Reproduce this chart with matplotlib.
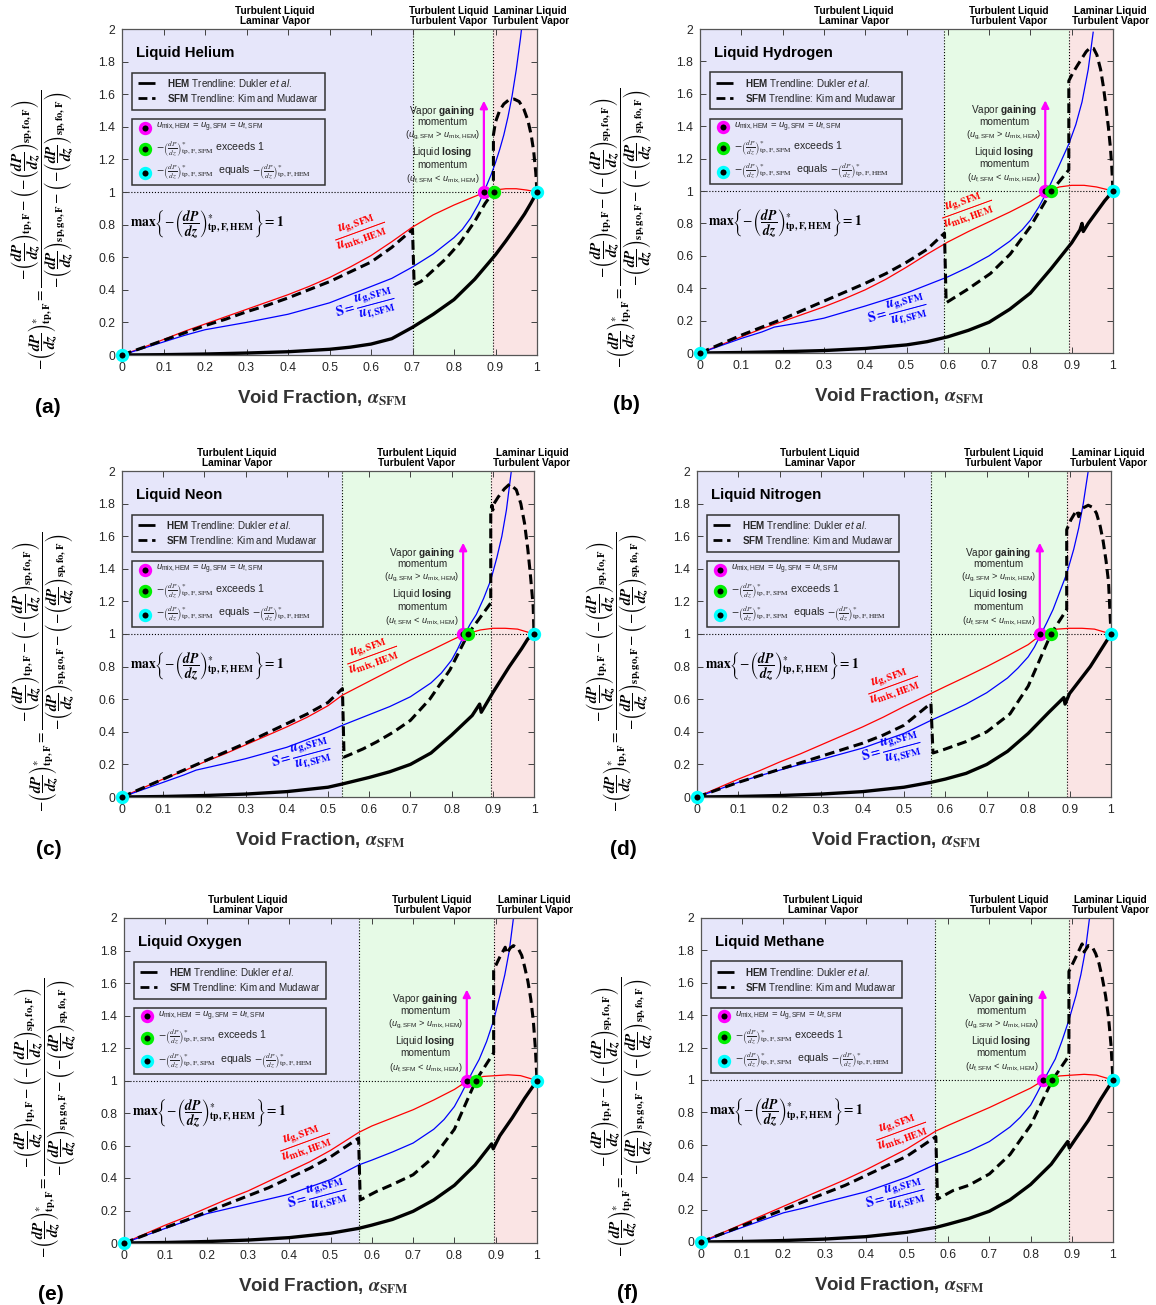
import matplotlib
matplotlib.use('Agg')
import matplotlib.pyplot as plt

plt.rcParams['font.family'] = ['Liberation Sans', 'DejaVu Sans']
plt.rcParams['mathtext.fontset'] = 'custom'
plt.rcParams['mathtext.rm'] = 'Liberation Sans'
plt.rcParams['mathtext.it'] = 'Liberation Sans:italic'
plt.rcParams['mathtext.bf'] = 'Liberation Sans:bold'

# ---------------- data ----------------
NAMES = ['Liquid Helium', 'Liquid Hydrogen', 'Liquid Neon',
         'Liquid Nitrogen', 'Liquid Oxygen', 'Liquid Methane']
LETTERS = ['(a)', '(b)', '(c)', '(d)', '(e)', '(f)']
BOUNDS = [(0.70, 0.895), (0.592, 0.893), (0.535, 0.895),
          (0.565, 0.893), (0.568, 0.895), (0.568, 0.893)]
X_MAGENTA = [0.872, 0.836, 0.828, 0.828, 0.830, 0.829]
X_GREEN = [0.897, 0.851, 0.840, 0.855, 0.852, 0.853]

X_TICKS = [0, 0.1, 0.2, 0.3, 0.4, 0.5, 0.6, 0.7, 0.8, 0.9, 1.0]
X_TICKLABELS = ['0', '0.1', '0.2', '0.3', '0.4', '0.5', '0.6', '0.7', '0.8', '0.9', '1']
Y_TICKS = [0, 0.2, 0.4, 0.6, 0.8, 1.0, 1.2, 1.4, 1.6, 1.8, 2.0]
Y_TICKLABELS = ['0', '0.2', '0.4', '0.6', '0.8', '1', '1.2', '1.4', '1.6', '1.8', '2']

# (a) Helium
HE_RED_X = [0, .05, .1, .15, .2, .25, .3, .35, .4, .45, .5, .55, .6, .65, .7, .75, .8, .85, .872, .9, .925, .95, .975, 1.0]
HE_RED_Y = [0, .045, .095, .145, .19, .235, .28, .325, .37, .42, .475, .54, .61, .695, .785, .86, .92, .973, .995, 1.013, 1.02, 1.02, 1.012, 1.0]
HE_BLUE_X = [0, .05, .1, .15, .2, .3, .4, .5, .6, .65, .7, .75, .8, .82, .84, .86, .872, .89, .9, .91, .92, .93, .94, .95, .96, .965]
HE_BLUE_Y = [0, .04, .08, .12, .155, .20, .25, .32, .42, .47, .54, .62, .72, .77, .84, .93, 1.0, 1.11, 1.18, 1.26, 1.35, 1.46, 1.59, 1.75, 1.94, 2.05]
HE_SFM_X = [0, .05, .1, .15, .2, .25, .3, .35, .4, .45, .5, .55, .6, .65, .70, .704, .72, .75, .78, .815, .85, .875, .895, .895, .90, .91, .92, .932, .945, .957, .968, .978, .986, .992, .997, 1.0]
HE_SFM_Y = [0, .045, .09, .135, .18, .22, .265, .305, .35, .40, .45, .51, .57, .66, .77, .43, .45, .52, .59, .69, .82, .93, 1.0, 1.35, 1.43, 1.50, 1.54, 1.565, 1.57, 1.555, 1.51, 1.44, 1.35, 1.25, 1.12, 1.0]
HE_HEM_X = [0, .1, .2, .3, .4, .5, .55, .6, .65, .7, .75, .8, .85, .9, .925, .95, .97, .985, 1.0]
HE_HEM_Y = [0, .002, .006, .012, .02, .035, .048, .067, .10, .17, .25, .34, .465, .615, .70, .79, .865, .93, 1.0]

# (b) Hydrogen
H2_RED_X = [0, .05, .1, .15, .2, .25, .3, .35, .4, .45, .5, .55, .6, .65, .7, .75, .8, .836, .87, .9, .93, .96, 1.0]
H2_RED_Y = [0, .05, .1, .15, .195, .24, .285, .335, .39, .455, .53, .61, .685, .75, .81, .87, .935, .995, 1.025, 1.035, 1.035, 1.025, 1.0]
H2_BLUE_X = [0, .05, .1, .15, .18, .25, .3, .4, .5, .6, .65, .7, .75, .78, .8, .82, .836, .85, .87, .893, .91, .925, .94, .952]
H2_BLUE_Y = [0, .045, .09, .13, .16, .19, .215, .29, .37, .47, .53, .60, .69, .76, .82, .90, .975, 1.05, 1.16, 1.29, 1.41, 1.55, 1.75, 1.98]
H2_SFM_X = [0, .05, .1, .15, .2, .25, .3, .35, .4, .45, .5, .55, .592, .596, .646, .703, .751, .80, .851, .893, .893, .903, .915, .925, .935, .945, .953, .961, .97, .977, .984, .989, .994, .997, 1.0]
H2_SFM_Y = [0, .055, .11, .16, .21, .265, .32, .375, .43, .49, .56, .64, .74, .31, .39, .49, .61, .78, 1.0, 1.13, 1.68, 1.73, 1.78, 1.82, 1.86, 1.885, 1.88, 1.84, 1.75, 1.64, 1.50, 1.39, 1.26, 1.15, 1.0]
H2_HEM_X = [0, .1, .2, .3, .4, .5, .55, .6, .65, .7, .75, .8, .85, .9, .92, .925, .928, .94, .96, .98, 1.0]
H2_HEM_Y = [0, .003, .008, .015, .028, .05, .07, .10, .14, .19, .27, .37, .52, .68, .76, .80, .75, .80, .87, .94, 1.0]

# (c) Neon
NE_RED_X = [0, .05, .1, .15, .2, .25, .3, .35, .4, .45, .5, .535, .6, .65, .7, .75, .8, .828, .87, .9, .93, .96, 1.0]
NE_RED_Y = [0, .055, .11, .16, .215, .265, .32, .375, .43, .49, .56, .625, .71, .775, .84, .90, .962, .995, 1.025, 1.035, 1.035, 1.03, 1.0]
NE_BLUE_X = [0, .05, .1, .15, .18, .25, .3, .4, .5, .535, .6, .65, .7, .75, .775, .8, .815, .828, .845, .86, .878, .895, .91, .922, .933, .945]
NE_BLUE_Y = [0, .045, .09, .135, .165, .205, .235, .305, .40, .44, .505, .555, .615, .70, .76, .84, .91, .98, 1.06, 1.12, 1.22, 1.33, 1.47, 1.60, 1.76, 2.0]
NE_SFM_X = [0, .05, .1, .15, .2, .25, .3, .35, .4, .45, .5, .535, .539, .555, .585, .618, .66, .70, .747, .796, .84, .895, .895, .898, .90, .903, .913, .928, .941, .957, .968, .977, .985, .991, .998, 1.0]
NE_SFM_Y = [0, .055, .11, .165, .22, .275, .33, .39, .45, .51, .58, .665, .245, .262, .295, .338, .40, .47, .60, .78, 1.0, 1.19, 1.75, 1.79, 1.76, 1.80, 1.84, 1.89, 1.92, 1.885, 1.80, 1.68, 1.52, 1.37, 1.17, 1.0]
NE_HEM_X = [0, .1, .2, .3, .4, .5, .535, .6, .65, .7, .75, .8, .85, .868, .872, .9, .94, .97, .985, 1.0]
NE_HEM_Y = [0, .003, .009, .018, .033, .06, .08, .12, .155, .20, .27, .38, .50, .57, .52, .64, .80, .91, .97, 1.0]

# (d) Nitrogen
N2_RED_X = [0, .05, .1, .15, .2, .25, .3, .35, .4, .45, .5, .565, .6, .65, .7, .75, .8, .828, .87, .9, .93, .96, 1.0]
N2_RED_Y = [0, .055, .11, .16, .215, .265, .32, .375, .43, .49, .555, .635, .678, .738, .80, .866, .935, .99, 1.03, 1.035, 1.035, 1.03, 1.0]
N2_BLUE_X = [0, .05, .1, .15, .2, .25, .3, .4, .5, .565, .6, .65, .7, .75, .775, .8, .815, .828, .845, .86, .875, .893, .91, .922, .933, .945]
N2_BLUE_Y = [0, .045, .09, .13, .165, .20, .23, .30, .39, .47, .51, .57, .64, .73, .79, .86, .92, .985, 1.07, 1.15, 1.25, 1.37, 1.52, 1.65, 1.80, 2.0]
N2_SFM_X = [0, .05, .1, .15, .2, .25, .3, .35, .4, .45, .5, .565, .57, .595, .65, .70, .756, .80, .855, .893, .893, .903, .917, .922, .93, .945, .957, .965, .974, .981, .988, .994, 1.0]
N2_SFM_Y = [0, .045, .09, .13, .17, .21, .25, .29, .33, .38, .44, .575, .27, .29, .34, .40, .51, .68, 1.0, 1.15, 1.64, 1.70, 1.76, 1.72, 1.77, 1.79, 1.775, 1.74, 1.66, 1.57, 1.45, 1.32, 1.0]
N2_HEM_X = [0, .1, .2, .3, .4, .5, .565, .6, .65, .7, .75, .8, .85, .886, .889, .9, .95, .98, 1.0]
N2_HEM_Y = [0, .003, .009, .018, .033, .06, .09, .11, .145, .20, .28, .39, .52, .61, .57, .635, .80, .92, 1.0]

# (e) Oxygen
O2_RED_X = [0, .05, .1, .15, .2, .25, .3, .35, .4, .45, .5, .568, .6, .65, .7, .75, .8, .83, .87, .9, .93, .96, 1.0]
O2_RED_Y = [0, .055, .11, .16, .215, .27, .32, .38, .44, .50, .57, .68, .72, .77, .82, .88, .945, .995, 1.025, 1.03, 1.035, 1.03, 1.0]
O2_BLUE_X = [0, .05, .1, .15, .2, .25, .3, .4, .5, .568, .6, .65, .7, .75, .775, .8, .815, .83, .845, .86, .878, .895, .91, .922, .933, .943]
O2_BLUE_Y = [0, .045, .09, .135, .18, .21, .24, .30, .39, .48, .51, .56, .615, .70, .76, .84, .91, .985, 1.06, 1.13, 1.24, 1.37, 1.52, 1.65, 1.80, 2.0]
O2_SFM_X = [0, .05, .1, .15, .2, .25, .3, .35, .4, .45, .5, .568, .572, .612, .65, .70, .75, .80, .852, .895, .895, .91, .923, .927, .935, .943, .955, .963, .97, .978, .985, .991, .996, 1.0]
O2_SFM_Y = [0, .048, .095, .14, .19, .24, .29, .34, .40, .46, .53, .645, .265, .318, .36, .42, .53, .70, 1.0, 1.17, 1.68, 1.76, 1.82, 1.78, 1.815, 1.83, 1.81, 1.77, 1.70, 1.61, 1.50, 1.37, 1.20, 1.0]
O2_HEM_X = [0, .1, .2, .3, .4, .5, .568, .6, .65, .7, .75, .8, .85, .89, .894, .91, .94, .97, 1.0]
O2_HEM_Y = [0, .003, .009, .018, .033, .06, .09, .11, .145, .195, .265, .355, .48, .61, .58, .66, .77, .89, 1.0]

# (f) Methane
CH4_RED_X = [0, .05, .1, .15, .2, .25, .3, .35, .4, .45, .5, .57, .6, .65, .7, .75, .8, .829, .87, .9, .93, .96, 1.0]
CH4_RED_Y = [0, .055, .11, .165, .22, .275, .33, .385, .445, .51, .575, .685, .72, .775, .83, .89, .95, .995, 1.025, 1.03, 1.035, 1.03, 1.0]
CH4_BLUE_X = [0, .05, .1, .15, .2, .25, .3, .4, .5, .57, .6, .65, .7, .75, .775, .8, .815, .829, .845, .86, .876, .893, .91, .922, .933, .943]
CH4_BLUE_Y = [0, .045, .09, .135, .18, .21, .245, .31, .40, .48, .51, .56, .62, .71, .77, .845, .915, .985, 1.06, 1.13, 1.24, 1.37, 1.52, 1.65, 1.80, 2.0]
CH4_SFM_X = [0, .05, .1, .15, .2, .25, .3, .35, .4, .45, .5, .57, .574, .612, .65, .70, .75, .80, .853, .893, .893, .91, .925, .93, .94, .95, .958, .966, .974, .982, .989, .995, 1.0]
CH4_SFM_Y = [0, .05, .1, .15, .2, .25, .3, .35, .41, .47, .53, .65, .265, .318, .35, .42, .54, .72, 1.0, 1.15, 1.67, 1.76, 1.84, 1.79, 1.83, 1.82, 1.78, 1.72, 1.63, 1.52, 1.39, 1.22, 1.0]
CH4_HEM_X = [0, .1, .2, .3, .4, .5, .57, .6, .65, .7, .75, .8, .85, .89, .894, .91, .94, .97, 1.0]
CH4_HEM_Y = [0, .003, .009, .018, .033, .06, .09, .11, .145, .19, .26, .355, .48, .62, .58, .64, .75, .88, 1.0]

CURVES = [
    (HE_RED_X, HE_RED_Y, HE_BLUE_X, HE_BLUE_Y, HE_SFM_X, HE_SFM_Y, HE_HEM_X, HE_HEM_Y),
    (H2_RED_X, H2_RED_Y, H2_BLUE_X, H2_BLUE_Y, H2_SFM_X, H2_SFM_Y, H2_HEM_X, H2_HEM_Y),
    (NE_RED_X, NE_RED_Y, NE_BLUE_X, NE_BLUE_Y, NE_SFM_X, NE_SFM_Y, NE_HEM_X, NE_HEM_Y),
    (N2_RED_X, N2_RED_Y, N2_BLUE_X, N2_BLUE_Y, N2_SFM_X, N2_SFM_Y, N2_HEM_X, N2_HEM_Y),
    (O2_RED_X, O2_RED_Y, O2_BLUE_X, O2_BLUE_Y, O2_SFM_X, O2_SFM_Y, O2_HEM_X, O2_HEM_Y),
    (CH4_RED_X, CH4_RED_Y, CH4_BLUE_X, CH4_BLUE_Y, CH4_SFM_X, CH4_SFM_Y, CH4_HEM_X, CH4_HEM_Y),
]

# ---------------- layout (pixels: left, top, right, bottom) ----------------
W, H = 1156, 1305
AX_PIX = [(122, 29, 537, 355), (700, 29, 1113, 353),
          (122, 471, 534, 797), (697, 471, 1111, 797),
          (124, 918, 537, 1243), (701, 918, 1113, 1242)]
REGION_LABEL_X = [(0.369, 0.788, 0.985), (0.372, 0.747, 0.994), (0.279, 0.715, 0.995),
                  (0.297, 0.740, 0.994), (0.300, 0.746, 0.993), (0.296, 0.746, 0.994)]
RED_LABEL = [(0.572, 0.76), (0.646, 0.89), (0.606, 0.87), (0.472, 0.688), (0.437, 0.62), (0.485, 0.686)]
BLUE_LABEL = [(0.587, 0.30), (0.477, 0.256), (0.436, 0.25), (0.47, 0.29), (0.467, 0.287), (0.471, 0.28)]

BG_BLUE, BG_GREEN, BG_RED = '#E6E6FA', '#E6FAE6', '#FAE4E4'
TXT = '#262626'

fig = plt.figure(figsize=(W / 100, H / 100), dpi=100)


def dpdz(sub, star=False, big=True):
    fr = r'\dfrac' if big else r'\frac'
    s = r'\left(' + fr + r'{\mathbfit{dP}}{\mathbfit{dz}}\right)'
    if star:
        s += r'^{*}'
    return s + r'_{\mathbf{' + sub + r'}}'


YLABEL = (r'$-' + dpdz('tp,F', True) + r' = \dfrac{-' + dpdz('tp,F') + r' - \left(-'
          + dpdz('sp,fo,F') + r'\right)}{-' + dpdz('sp,go,F') + r' - \left(-'
          + dpdz('sp,fo,F') + r'\right)}$')
MAXTXT = (r'$\mathbf{max}\left\{-' + dpdz('tp,F,HEM', True) + r'\right\} = \mathbf{1}$')
SMALL = r'\left(\frac{dP}{dz}\right)^{*}'
MK = dict(ms=7, mfc='k', mew=2.6)

for i in range(6):
    l, t, r, b = AX_PIX[i]
    ax = fig.add_axes([l / W, 1 - b / H, (r - l) / W, (b - t) / H])
    b1, b2 = BOUNDS[i]
    rx, ry, bx, by, sx, sy, hx, hy = CURVES[i]
    xm, xg = X_MAGENTA[i], X_GREEN[i]

    ax.set_xlim(0, 1)
    ax.set_ylim(0, 2)
    ax.axvspan(0, b1, color=BG_BLUE, lw=0, zorder=0)
    ax.axvspan(b1, b2, color=BG_GREEN, lw=0, zorder=0)
    ax.axvspan(b2, 1, color=BG_RED, lw=0, zorder=0)
    ax.axvline(b1, color='k', ls=':', lw=0.8, zorder=1)
    ax.axvline(b2, color='k', ls=':', lw=0.8, zorder=1)
    ax.axhline(1.0, color='k', ls=':', lw=0.8, zorder=1)

    ax.plot(hx, hy, color='k', lw=2.4, zorder=3, solid_joinstyle='round')
    ax.plot(rx, ry, color='red', lw=0.9, zorder=3)
    ax.plot(bx, by, color='blue', lw=0.9, zorder=3)
    ax.plot(sx, sy, color='k', lw=2.2, ls=(0, (3.2, 1.7)), zorder=4)

    ax.annotate('', xy=(xm, 1.56), xytext=(xm, 1.0),
                arrowprops=dict(arrowstyle='-|>', color='magenta', lw=1.6,
                                mutation_scale=11, shrinkA=0, shrinkB=0), zorder=5)
    for (px, py, c) in [(xm, 1.0, 'magenta'), (xg, 1.0, '#00F000'),
                        (0.0, 0.0, 'cyan'), (1.0, 1.0, 'cyan')]:
        ax.plot([px], [py], 'o', mec=c, zorder=8, clip_on=False, **MK)

    # axes styling
    ax.set_xticks(X_TICKS)
    ax.set_xticklabels(X_TICKLABELS)
    ax.set_yticks(Y_TICKS)
    ax.set_yticklabels(Y_TICKLABELS)
    ax.tick_params(direction='in', length=4, width=0.7, top=True, right=True,
                   labelsize=8.8, colors='#404040', labelcolor=TXT, pad=5)
    for sp in ax.spines.values():
        sp.set_color('#555555')
        sp.set_linewidth(0.9)
        sp.set_zorder(6)

    # region labels
    for xl, lab in zip(REGION_LABEL_X[i], ['Turbulent Liquid\nLaminar Vapor',
                                          'Turbulent Liquid\nTurbulent Vapor',
                                          'Laminar Liquid\nTurbulent Vapor']):
        ax.text(xl, 1.008, lab, transform=ax.transAxes, ha='center', va='bottom',
                fontsize=7.3, fontweight='bold', color='k', linespacing=1.1)

    # title
    ax.text(0.034, 0.926, NAMES[i], transform=ax.transAxes, ha='left', va='center',
            fontsize=10.8, fontweight='bold', color='k')

    # legend box 1
    ax.add_patch(plt.Rectangle((0.025, 0.752), 0.464, 0.114, transform=ax.transAxes,
                               fill=False, ec='#333333', lw=1.1, zorder=6))
    ax.plot([0.039, 0.080], [0.833, 0.833], transform=ax.transAxes, color='k', lw=2,
            solid_capstyle='butt', zorder=6)
    ax.plot([0.039, 0.080], [0.787, 0.787], transform=ax.transAxes, color='k', lw=2,
            ls=(0, (3.2, 1.7)), zorder=6)
    ax.text(0.108, 0.833, r'$\mathbf{HEM}$ Trendline: Dukler $\mathit{et\ al}$.',
            transform=ax.transAxes, fontsize=7.1, va='center', color=TXT)
    ax.text(0.108, 0.787, r'$\mathbf{SFM}$ Trendline: Kim and Mudawar',
            transform=ax.transAxes, fontsize=7.1, va='center', color=TXT)

    # legend box 2
    ax.add_patch(plt.Rectangle((0.025, 0.521), 0.464, 0.202, transform=ax.transAxes,
                               fill=False, ec='#333333', lw=1.1, zorder=6))
    for yy, c in [(0.697, 'magenta'), (0.632, '#00F000'), (0.559, 'cyan')]:
        ax.plot([0.055], [yy], 'o', mec=c, transform=ax.transAxes, zorder=7, **MK)
    ax.text(0.082, 0.697, r'$u_{\rm mix,HEM}$ = $u_{\rm g,SFM}$ = $u_{\rm f,SFM}$',
            transform=ax.transAxes, fontsize=6.8, va='center', color=TXT)
    ax.text(0.082, 0.632, r'$-' + SMALL + r'_{\rm tp,F,SFM}$ exceeds 1',
            transform=ax.transAxes, fontsize=7.6, va='center', color=TXT,
            math_fontfamily='stix')
    ax.text(0.082, 0.559, r'$-' + SMALL + r'_{\rm tp,F,SFM}$  equals $-' + SMALL
            + r'_{\rm tp,F,HEM}$', transform=ax.transAxes, fontsize=7.6, va='center',
            color=TXT, math_fontfamily='stix')

    # max formula
    ax.text(0.02, 0.40, MAXTXT, transform=ax.transAxes, fontsize=9.8, va='center',
            ha='left', color='k', math_fontfamily='stix')

    # curve labels
    ax.text(RED_LABEL[i][0], RED_LABEL[i][1],
            r'$\dfrac{\mathbfit{u}_{\mathbf{g,SFM}}}{\mathbfit{u}_{\mathbf{mix,HEM}}}$',
            color='red', fontsize=10, rotation=20, ha='center', va='center',
            math_fontfamily='stix', zorder=5)
    ax.text(BLUE_LABEL[i][0], BLUE_LABEL[i][1],
            r'$\mathbf{S} = \dfrac{\mathbfit{u}_{\mathbf{g,SFM}}}{\mathbfit{u}_{\mathbf{f,SFM}}}$',
            color='blue', fontsize=10, rotation=15, ha='center', va='center',
            math_fontfamily='stix', zorder=5)

    # momentum annotation
    xc = xm - 0.10
    for yy, s, fs in [(1.50, r'Vapor $\mathbf{gaining}$', 7.2),
                      (1.427, 'momentum', 7.2),
                      (1.345, r'($u_{\rm g,SFM}$ > $u_{\rm mix,HEM}$)', 6.6),
                      (1.243, r'Liquid $\mathbf{losing}$', 7.2),
                      (1.168, 'momentum', 7.2),
                      (1.08, r'($u_{\rm f,SFM}$ < $u_{\rm mix,HEM}$)', 6.6)]:
        ax.text(xc, yy, s, fontsize=fs, ha='center', va='center', color=TXT, zorder=5)

    # y label, x label, panel letter
    ax.text(-0.19, 0.385, YLABEL, transform=ax.transAxes, rotation=90, ha='center',
            va='center', fontsize=10.8, math_fontfamily='stix', color='k')
    ax.text(0.482, -0.132, r'Void Fraction, $\mathbfit{\alpha}_{\mathbf{SFM}}$',
            transform=ax.transAxes, ha='center', va='center', fontsize=13.5,
            fontweight='bold', color='#333333', math_fontfamily='stix')
    ax.text(-0.178, -0.16, LETTERS[i], transform=ax.transAxes, ha='center',
            va='center', fontsize=15, fontweight='bold', color='k')

fig.savefig('out.png', dpi=100)
